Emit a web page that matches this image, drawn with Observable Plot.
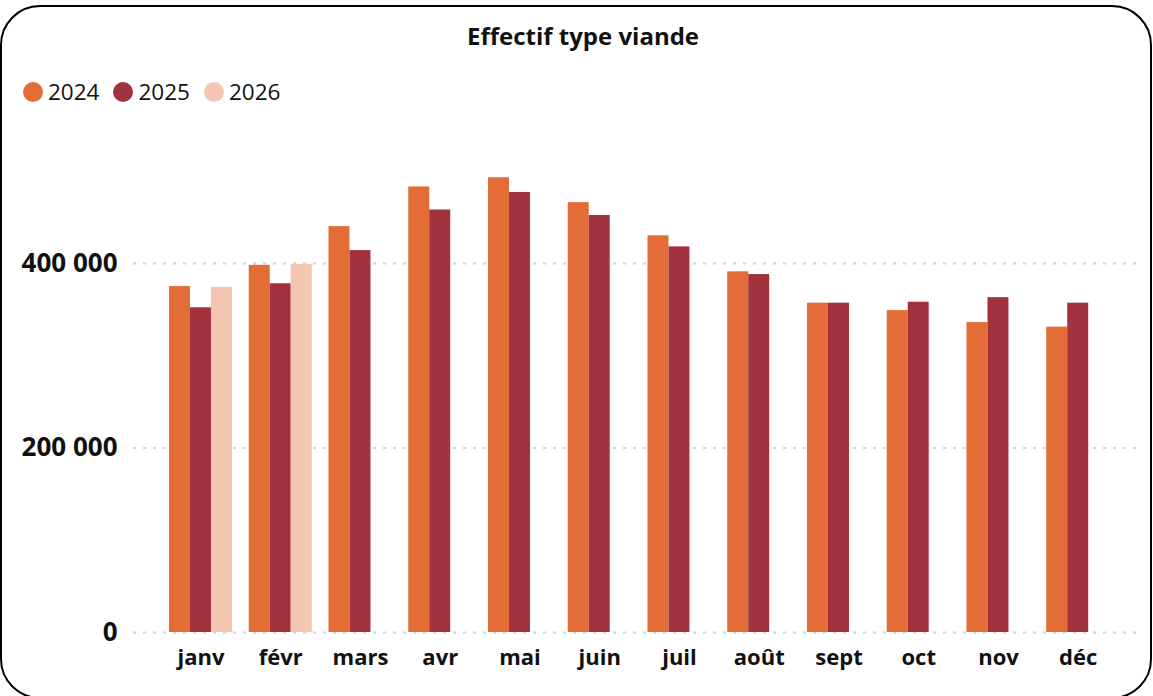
<!DOCTYPE html>
<html><head><meta charset="utf-8">
<script src="https://cdn.jsdelivr.net/npm/d3@7"></script>
<script src="https://cdn.jsdelivr.net/npm/@observablehq/plot@0.6"></script>
<style>
body{margin:0;background:#fff;font-family:"Open Sans",sans-serif;width:1153px;height:696px;overflow:hidden;position:relative;}
#frame{position:absolute;left:0;top:5px;width:1148px;height:690px;border:2px solid #000;border-radius:40px;}
#title{position:absolute;top:20px;left:0;width:1166px;text-align:center;font-weight:700;font-size:24px;color:#111;line-height:32px;}
#legend{position:absolute;top:79px;left:23px;display:flex;align-items:center;font-size:22.5px;color:#111;line-height:26px;}
#legend .it{display:flex;align-items:center;margin-right:14px;}
#legend .dot{width:20px;height:20px;border-radius:50%;margin-right:5px;}
.layer{position:absolute;left:0;top:120px;}
</style></head><body>
<div id="frame"></div>
<div id="title">Effectif type viande</div>
<div id="legend"></div>
<div id="grid" class="layer"></div>
<div id="bars" class="layer"></div>
<script>
const months = ["janv","févr","mars","avr","mai","juin","juil","août","sept","oct","nov","déc"];
const years = ["2024","2025","2026"];
const colors = ["#e46c37","#a3323f","#f4c5b0"];
const values2024 = [375000,398000,440000,483000,493000,466000,430000,391000,357000,349000,336000,331000];
const values2025 = [352000,378000,414000,458000,477000,452000,418000,388000,357000,358000,363000,357000];
const values2026 = [374000,399000];
const yTicks = [0,200000,400000];

const data = [];
[values2024, values2025, values2026].forEach((vals, i) => {
  vals.forEach((v, j) => data.push({month: months[j], year: years[i], value: v}));
});

const legend = document.getElementById("legend");
years.forEach((y, i) => {
  const it = document.createElement("div"); it.className = "it";
  const d = document.createElement("span"); d.className = "dot"; d.style.background = colors[i];
  const t = document.createElement("span"); t.textContent = y;
  it.appendChild(d); it.appendChild(t); legend.appendChild(it);
});

const fmt = v => d3.format(",")(v).replace(/,/g, " ");
const common = {
  width: 1153, height: 576,
  marginTop: 50.75, marginBottom: 64, marginLeft: 133, marginRight: 15,
  style: {fontFamily: "Open Sans, sans-serif", background: "transparent"}
};

// Background layer: y scale, dotted gridlines and y tick labels
const gridPlot = Plot.plot({
  ...common,
  y: {domain: [0, 500000], axis: null},
  marks: [
    Plot.ruleY(yTicks, {stroke: "#d4d4d4", strokeWidth: 2, strokeDasharray: "3,7"}),
    Plot.text(yTicks, {y: d => d, text: d => fmt(d), frameAnchor: "left", textAnchor: "end", dx: -16, fontSize: 26, fontWeight: 700, fill: "#111"})
  ]
});
document.getElementById("grid").appendChild(gridPlot);

// Foreground layer: grouped bars faceted by month
const barPlot = Plot.plot({
  ...common,
  fx: {domain: months, paddingInner: 0, paddingOuter: 0.301, align: 0.575, round: false, axis: null, label: null},
  x: {domain: years, paddingInner: 0, paddingOuter: 0.4, round: false, axis: null},
  y: {domain: [0, 500000], axis: null},
  color: {domain: years, range: colors},
  marks: [
    Plot.barY(data, {fx: "month", x: "year", y: "value", fill: "year"}),
    Plot.text(months, {fx: d => d, text: d => d, frameAnchor: "bottom", dy: 32, fontSize: 22, fontWeight: 700, fill: "#111"})
  ]
});
document.getElementById("bars").appendChild(barPlot);
</script>
</body></html>
